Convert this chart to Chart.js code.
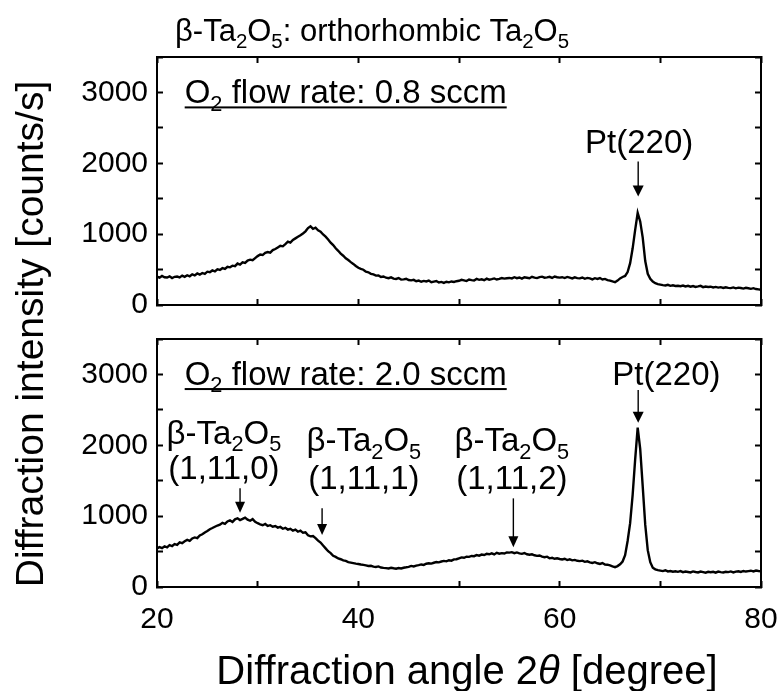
<!DOCTYPE html>
<html>
<head>
<meta charset="utf-8">
<script src="https://cdn.jsdelivr.net/npm/chart.js@4.4.0/dist/chart.umd.min.js"></script>
<style>
html,body{margin:0;padding:0;background:#fff;}
#wrap{position:relative;width:783px;height:691px;overflow:hidden;background:#fff;}
canvas{position:absolute;left:0;top:0;}
</style>
</head>
<body>
<div id="wrap">
<canvas id="cA" width="783" height="691"></canvas>
<canvas id="cB" width="783" height="691"></canvas>
</div>
<script>
// ---------------- DATA ----------------
const angles = [
20,20.25,20.5,20.75,21,21.25,21.5,21.75,22,22.25,22.5,22.75,23,23.25,23.5,23.75,24,24.25,24.5,24.75,
25,25.25,25.5,25.75,26,26.25,26.5,26.75,27,27.25,27.5,27.75,28,28.25,28.5,28.75,29,29.25,29.5,29.75,
30,30.25,30.5,30.75,31,31.25,31.5,31.75,32,32.25,32.5,32.75,33,33.25,33.5,33.75,34,34.25,34.5,34.75,
35,35.25,35.5,35.75,36,36.25,36.5,36.75,37,37.25,37.5,37.75,38,38.25,38.5,38.75,39,39.25,39.5,39.75,
40,40.25,40.5,40.75,41,41.25,41.5,41.75,42,42.25,42.5,42.75,43,43.25,43.5,43.75,44,44.25,44.5,44.75,
45,45.25,45.5,45.75,46,46.25,46.5,46.75,47,47.25,47.5,47.75,48,48.25,48.5,48.75,49,49.25,49.5,49.75,
50,50.25,50.5,50.75,51,51.25,51.5,51.75,52,52.25,52.5,52.75,53,53.25,53.5,53.75,54,54.25,54.5,54.75,
55,55.25,55.5,55.75,56,56.25,56.5,56.75,57,57.25,57.5,57.75,58,58.25,58.5,58.75,59,59.25,59.5,59.75,
60,60.25,60.5,60.75,61,61.25,61.5,61.75,62,62.25,62.5,62.75,63,63.25,63.5,63.75,64,64.25,64.5,64.75,
65,65.25,65.5,65.75,66,66.25,66.5,66.75,67,67.25,67.5,67.75,68,68.25,68.5,68.75,69,69.25,69.5,69.75,
70,70.25,70.5,70.75,71,71.25,71.5,71.75,72,72.25,72.5,72.75,73,73.25,73.5,73.75,74,74.25,74.5,74.75,
75,75.25,75.5,75.75,76,76.25,76.5,76.75,77,77.25,77.5,77.75,78,78.25,78.5,78.75,79,79.25,79.5,79.75,
80];

// O2 flow rate 0.8 sccm (counts/s)
const flow08 = [
400,385,410,392,388,405,380,398,402,390,415,398,420,405,432,418,445,428,452,440,
470,462,488,475,505,495,520,508,540,532,555,548,585,570,602,595,628,640,632,662,
690,712,705,735,748,740,775,790,812,835,828,860,895,880,918,940,962,985,1010,1040,
1085,1110,1075,1090,1055,1035,995,965,925,880,845,800,765,725,695,660,635,605,580,550,
525,510,498,470,462,440,432,415,418,395,402,385,378,390,372,368,380,358,362,370,
352,348,355,335,345,328,340,332,345,322,330,338,318,326,312,328,320,332,325,336,
342,355,348,338,360,352,345,368,355,362,350,372,358,365,375,360,368,380,372,378,
382,375,392,378,388,372,392,385,378,398,386,380,394,400,385,390,398,382,402,392,
386,392,380,396,386,375,390,380,376,388,370,382,376,362,378,368,380,360,368,352,
345,332,322,345,375,395,410,465,590,800,1060,1300,1180,950,620,440,370,330,308,295,
288,280,275,285,270,278,268,272,265,275,262,270,258,268,255,262,270,252,260,255,
258,248,255,245,252,240,250,242,238,248,235,245,240,232,242,236,228,238,225,220,
215];

// O2 flow rate 2.0 sccm (counts/s)
const flow20 = [
545,562,548,575,560,590,578,605,595,630,618,645,665,650,685,700,690,728,745,770,
790,815,832,850,868,880,905,890,925,940,918,955,970,945,962,980,950,935,958,920,
900,885,872,890,862,872,850,860,838,848,822,835,810,822,795,810,780,795,765,772,
730,715,720,690,655,628,585,545,505,478,440,425,402,392,375,368,352,345,338,330,
325,318,312,305,296,300,288,282,290,275,270,266,262,272,264,258,268,262,272,278,
285,298,290,302,308,318,312,328,335,330,342,352,348,360,368,362,378,372,390,392,
405,418,412,428,425,438,435,450,442,458,452,468,462,475,460,482,470,478,472,488,
485,492,478,488,475,468,480,462,455,462,448,440,445,428,420,428,405,412,398,405,
395,388,398,380,390,376,382,370,365,372,355,362,348,340,350,335,325,338,318,315,
305,292,280,295,320,360,450,650,900,1300,1800,2250,1950,1420,880,520,350,272,250,238,
232,225,236,220,226,215,222,214,225,210,218,212,205,220,212,206,218,210,202,214,
208,215,202,218,210,205,215,210,220,206,218,222,212,226,218,224,230,220,232,226,
222];

const xRange = [20, 80];
const xTickStep = 10;
const xLabelValues = [20, 40, 60, 80];
const yRange = [0, 3500];
const yTickStep = 500;
const yLabelValues = [0, 1000, 2000, 3000];

const chartTitle = [{t:'β-Ta'},{t:'2',s:1},{t:'O'},{t:'5',s:1},{t:': orthorhombic Ta'},{t:'2',s:1},{t:'O'},{t:'5',s:1}];
const xTitle = [{t:'Diffraction angle 2'},{t:'θ',i:1},{t:' [degree]'}];
const yTitle = 'Diffraction intensity [counts/s]';
const BETA = [{t:'β-Ta'},{t:'2',s:1},{t:'O'},{t:'5',s:1}];

// annotations in data coordinates (2θ, counts/s)
const annTop = {
  texts: [
    {x:22.75, y:2845, align:'left', underline:true, parts:[{t:'O'},{t:'2',s:1},{t:' flow rate: 0.8 sccm'}]},
    {x:67.9, y:2150, align:'center', parts:[{t:'Pt(220)'}]}
  ],
  arrows: [{x:67.8, from:2025, to:1530, w:11, h:11}]
};
const annBottom = {
  texts: [
    {x:22.75, y:2850, align:'left', underline:true, parts:[{t:'O'},{t:'2',s:1},{t:' flow rate: 2.0 sccm'}]},
    {x:70.6, y:2850, align:'center', parts:[{t:'Pt(220)'}]},
    {x:26.65, y:2018, align:'center', parts:BETA},
    {x:26.65, y:1530, align:'center', parts:[{t:'(1,11,0)'}]},
    {x:40.55, y:1915, align:'center', parts:BETA},
    {x:40.55, y:1385, align:'center', parts:[{t:'(1,11,1)'}]},
    {x:55.25, y:1915, align:'center', parts:BETA},
    {x:55.25, y:1385, align:'center', parts:[{t:'(1,11,2)'}]}
  ],
  arrows: [
    {x:67.8, from:2780, to:2318, w:11, h:11},
    {x:28.25, from:1393, to:1048, w:10, h:11},
    {x:36.4, from:1110, to:734, w:10, h:11},
    {x:55.4, from:1251, to:560, w:10, h:11}
  ]
};

// ---------------- DRAWING HELPERS ----------------
const FAM = '"Liberation Sans", Arial, Helvetica, sans-serif';
const TICK = 30, ANN = 33, HEAD = 31, AXT = 40;
function fnt(size, italic){ return (italic ? 'italic ' : '') + size + 'px ' + FAM; }
function rich(ctx, parts, x, y, size, align, underline){
  const sizes = parts.map(p => p.s ? size*0.66 : size);
  const w = parts.map((p,k) => { ctx.font = fnt(sizes[k], p.i); return ctx.measureText(p.t).width; });
  const tot = w.reduce((a,b)=>a+b,0);
  let cx = align === 'center' ? x - tot/2 : x;
  const x0 = cx;
  ctx.textAlign = 'left'; ctx.textBaseline = 'alphabetic'; ctx.fillStyle = '#000';
  parts.forEach((p,k) => {
    ctx.font = fnt(sizes[k], p.i);
    ctx.fillText(p.t, cx, y + (p.s ? size*0.22 : 0));
    cx += w[k];
  });
  if (underline) ctx.fillRect(x0, y + 3, tot, 2);
}
function arrow(ctx, x, y1, y2, w, h){
  ctx.save();
  ctx.strokeStyle = '#000'; ctx.fillStyle = '#000'; ctx.lineWidth = 1.4;
  ctx.beginPath(); ctx.moveTo(x, y1); ctx.lineTo(x, y2 - h + 1); ctx.stroke();
  ctx.beginPath(); ctx.moveTo(x - w/2, y2 - h); ctx.lineTo(x + w/2, y2 - h); ctx.lineTo(x, y2); ctx.closePath(); ctx.fill();
  ctx.restore();
}
function annotationPlugin(ann, extra){
  return {
    id: 'ann',
    afterDraw(chart){
      const ctx = chart.ctx, xs = chart.scales.x, ys = chart.scales.y;
      ctx.save();
      ann.texts.forEach(a => rich(ctx, a.parts, xs.getPixelForValue(a.x), ys.getPixelForValue(a.y), ANN, a.align, a.underline));
      ann.arrows.forEach(a => arrow(ctx, xs.getPixelForValue(a.x), ys.getPixelForValue(a.from), ys.getPixelForValue(a.to), a.w, a.h));
      if (extra) extra(chart, ctx);
      ctx.restore();
    }
  };
}

const gridOpts = {drawOnChartArea:false, drawTicks:true, tickLength:-6, tickWidth:2, tickColor:'#000'};
const borderOpts = {display:true, color:'#000', width:2};
function noPad(s){ s.paddingLeft = 0; s.paddingRight = 0; s.paddingTop = 0; s.paddingBottom = 0; }

function makeScales(showX, xHeight){
  return {
    x: {type:'linear', position:'bottom', min:xRange[0], max:xRange[1],
        grid:gridOpts, border:borderOpts,
        ticks:{display:showX, stepSize:xTickStep, autoSkip:false, maxRotation:0, padding:21, color:'#000',
               font:{family:FAM, size:TICK},
               callback:v => xLabelValues.includes(v) ? String(v) : ''},
        afterFit: s => { s.height = xHeight; noPad(s); }},
    xTop: {type:'linear', position:'top', min:xRange[0], max:xRange[1],
        grid:gridOpts, border:borderOpts,
        ticks:{display:false, stepSize:xTickStep, autoSkip:false},
        afterFit: s => { s.height = 0; noPad(s); }},
    y: {type:'linear', position:'left', min:yRange[0], max:yRange[1],
        grid:gridOpts, border:borderOpts,
        ticks:{stepSize:yTickStep, autoSkip:false, padding:15, color:'#000',
               font:{family:FAM, size:TICK},
               callback:v => yLabelValues.includes(v) ? String(v) : ''},
        afterFit: s => { s.width = 157; noPad(s); }},
    yRight: {type:'linear', position:'right', min:yRange[0], max:yRange[1],
        grid:gridOpts, border:borderOpts,
        ticks:{display:false, stepSize:yTickStep, autoSkip:false},
        afterFit: s => { s.width = 0; noPad(s); }}
  };
}

function series(vals){ return angles.map((a,k) => ({x:a, y:vals[k]})); }

const common = {
  responsive:false, maintainAspectRatio:false, animation:false, devicePixelRatio:1,
  plugins:{legend:{display:false}, tooltip:{enabled:false}, title:{display:false}},
  elements:{point:{radius:0}, line:{tension:0}}
};

new Chart(document.getElementById('cA'), {
  type:'line',
  data:{datasets:[{data:series(flow08), borderColor:'#000', borderWidth:2.4, fill:false, pointRadius:0}]},
  options:Object.assign({}, common, {
    layout:{padding:{top:57, bottom:386, left:0, right:22}},
    scales:makeScales(false, 0)
  }),
  plugins:[annotationPlugin(annTop, (chart, ctx) => {
    const ca = chart.chartArea;
    rich(ctx, chartTitle, ca.left + 18, ca.top - 16, HEAD, 'left', false);
    ctx.save();
    ctx.translate(43, 334);
    ctx.rotate(-Math.PI/2);
    ctx.font = fnt(39); ctx.fillStyle = '#000'; ctx.textAlign = 'center'; ctx.textBaseline = 'alphabetic';
    ctx.fillText(yTitle, 0, 0);
    ctx.restore();
  })]
});

new Chart(document.getElementById('cB'), {
  type:'line',
  data:{datasets:[{data:series(flow20), borderColor:'#000', borderWidth:2.4, fill:false, pointRadius:0}]},
  options:Object.assign({}, common, {
    layout:{padding:{top:339, bottom:44, left:0, right:22}},
    scales:makeScales(true, 60)
  }),
  plugins:[annotationPlugin(annBottom, (chart, ctx) => {
    const ca = chart.chartArea;
    rich(ctx, xTitle, 467, ca.bottom + 97, AXT, 'center', false);
  })]
});
</script>
</body>
</html>
